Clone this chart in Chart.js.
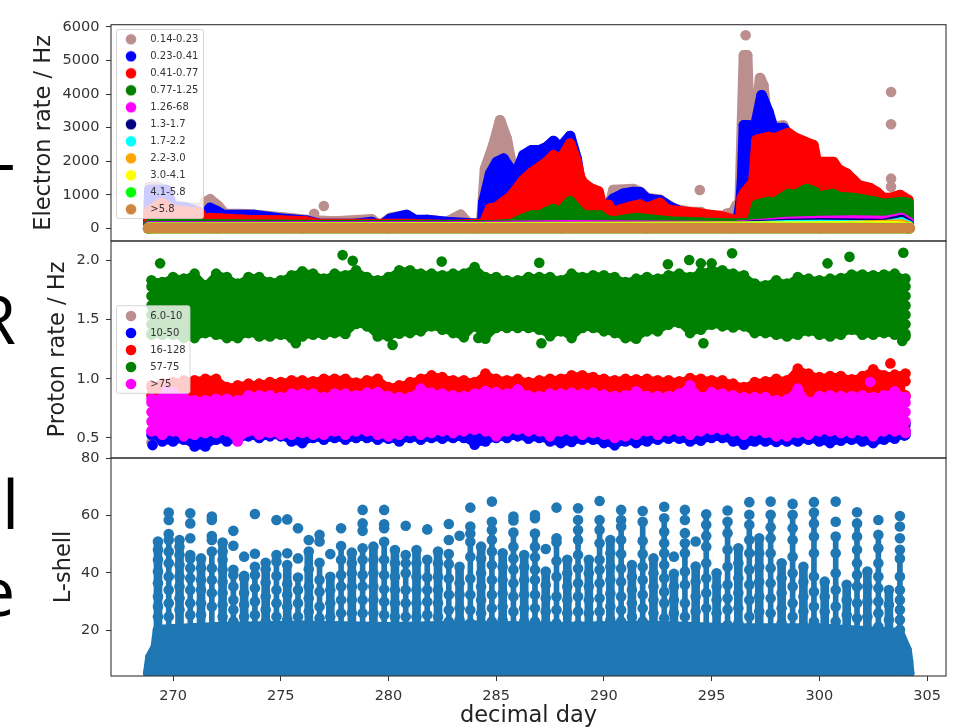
<!DOCTYPE html>
<html><head><meta charset="utf-8">
<style>
html,body{margin:0;padding:0;background:#fff;width:976px;height:728px;overflow:hidden}
canvas{position:absolute;left:0;filter:blur(.45px)}
.slide{position:absolute;font-family:"Open Sans",sans-serif;font-size:68px;line-height:70px;color:#000;filter:blur(.4px)}
</style>
<script src="https://cdn.jsdelivr.net/npm/chart.js@4"></script>
</head><body>
<span class="slide" style="left:-21px;top:109px">L</span>
<span class="slide" style="left:-26px;top:283px">R</span>
<span class="slide" style="left:2px;top:468px">l</span>
<span class="slide" style="left:-23px;top:555px">e</span>
<canvas id="c1" width="976" height="236" style="top:10px"></canvas>
<canvas id="c2" width="976" height="236" style="top:227px"></canvas>
<canvas id="c3" width="976" height="286" style="top:444px"></canvas>
<script>
// ---------- axis ticks ----------
const dayTicks=[270,275,280,285,290,295,300,305];
const electronTicks=[0,1000,2000,3000,4000,5000,6000];
const protonTicks=[0.5,1.0,1.5,2.0];
const lshellTicks=[20,40,60,80];

// ---------- electron channels ----------
const electronLabels=['0.14-0.23','0.23-0.41','0.41-0.77','0.77-1.25','1.26-68','1.3-1.7','1.7-2.2','2.2-3.0','3.0-4.1','4.1-5.8','>5.8'];
const electronColors=['#bc8f8f','#0000ff','#ff0000','#008000','#ff00ff','#000080','#00ffff','#ffa500','#ffff00','#00ff00','#cd853f'];

const rosyDays=[268.85,268.9,269.3,269.6,270,270.6,271.3,271.72,272.1,272.4,273.5,275.5,276.4,277.5,279.22,279.6,280.07,280.85,281.3,281.8,282.7,283.35,283.7,284.3,284.4,284.48,284.87,285.18,285.49,285.72,286,286.7,288.4,289,289.9,290.2,290.44,291.37,291.7,292,292.6,293,293.4,294,294.5,294.8,295.5,295.7,296,296.16,296.3,296.5,296.65,296.75,297,297.25,297.4,297.6,298.33,298.7,299,303,304.13,304.13];
const rosyRates=[0,1240,1240,1150,700,620,600,864,663,435,420,300,235,200,268,70,307,396,221,247,188,405,150,140,1000,1767,2480,3220,2670,1884,1720,1900,2500,1000,500,500,1140,1170,1080,900,850,680,560,486,486,300,250,430,486,690,700,5156,5156,3170,3000,4480,4260,3000,3060,2400,1500,800,700,0];
const rosyDotDays=[296.58,303.33,303.33,303.33,303.33,277,276.55,294.45,271.5];
const rosyDotRates=[5753,4063,3100,1480,1240,664,435,1141,800];

const blueDays=[268.85,268.9,269.7,269.95,270.6,271.1,271.45,271.72,272.03,272.35,273.75,274.97,276.2,276.8,278.4,279.22,279.6,280.07,280.85,281.23,281.8,282.7,284.25,284.35,284.41,284.72,285.03,285.34,285.65,285.96,286.27,286.65,287.04,287.35,287.66,287.97,288.43,288.74,288.9,289.13,289.9,290.44,290.9,291.37,291.68,291.99,292.61,293.08,293.38,294,296.2,296.35,296.42,296.5,296.7,296.85,296.94,297.32,297.64,297.87,298.33,298.55,298.7,299,304.13,304.13];
const blueRates=[0,1140,1140,650,620,500,400,605,516,396,396,292,226,128,128,188,60,277,396,247,247,188,128,200,784,1628,1976,2075,1777,1708,2184,2328,2330,2424,2600,2400,2750,2065,1380,1000,500,883,1031,1080,1070,880,830,635,545,400,200,800,1500,3070,3070,1900,2770,3964,3466,2970,2990,2800,2400,1500,600,0];

const redDays=[268.85,268.9,269.46,270,271.25,271.45,271.7,273.4,274.97,276.2,276.8,280.85,282.7,284.25,284.41,284.72,285.03,285.34,285.65,285.96,286.27,286.65,287.04,287.35,287.66,287.97,288.43,288.74,288.9,289.05,289.36,289.75,289.9,290.21,290.44,290.75,291.37,291.68,291.99,292.61,292.92,293.38,294.31,294.93,295.4,296.02,296.33,296.4,296.55,296.94,297.09,297.63,297.94,298.56,298.87,299.34,299.72,299.88,300.65,300.88,301.27,301.58,301.81,302.35,302.66,302.97,303.28,303.75,304.13,304.13];
const redRates=[0,515,754,545,456,247,307,247,228,200,128,128,100,128,120,585,630,784,933,1180,1440,1657,1827,1976,2176,2036,2522,1976,1500,1350,1200,1097,724,695,456,557,665,706,605,754,557,516,456,396,366,256,190,903,1080,1380,2632,2720,2680,2840,2700,2572,2480,1976,1976,1760,1630,1440,1290,1200,1080,903,903,990,845,0];

const greenDays=[268.85,268.9,271,276,284.5,285.03,285.8,286.1,286.65,287.04,287.35,287.66,287.97,288.43,288.74,289.05,289.83,290.1,290.44,291.5,293,296,296.86,297.09,297.63,297.94,298.56,298.87,299.41,299.8,299.88,300.65,300.88,301.58,302.66,302.97,303.82,304.13,304.13];
const greenRates=[0,120,120,100,90,98,137,247,378,378,486,575,486,805,575,378,378,247,200,307,200,137,170,695,784,760,1022,990,1170,1080,933,1022,933,903,784,724,784,754,0];

const magentaDays=[268.85,268.9,284,288.4,296,296.9,298.5,300,301.6,303.1,303.82,304.13,304.13];
const magentaRates=[0,60,60,90,60,107,188,218,230,218,307,188,0];
const navyDays=[268.85,268.9,296,296.9,298.5,300,303,303.82,304.13,304.13];
const navyRates=[0,40,40,80,130,150,130,247,120,0];
const cyanDays=[268.85,268.9,296,298.5,300,303,303.82,304.13,304.13];
const cyanRates=[0,30,30,90,100,80,170,80,0];
const orangeDays=[268.85,268.9,300,303.82,304.13,304.13];
const orangeRates=[0,20,40,110,50,0];
const yellowDays=[268.85,268.9,303.5,304.13,304.13];
const yellowRates=[0,10,60,20,0];
const limeDays=[268.85,268.9,304.13,304.13];
const limeRates=[0,5,5,0];
const peruDays=[268.85,272,276,280,284,288,292,296,300,304.2];
const peruRates=[0,0,0,0,0,0,0,0,0,0];

// ---------- proton channels ----------
const protonLabels=['6.0-10','10-50','16-128','57-75','>75'];
const protonColors=['#bc8f8f','#0000ff','#ff0000','#008000','#ff00ff'];
const protonDays=[269,269.5,270,270.5,271,271.5,272,272.5,273,273.5,274,274.5,275,275.5,276,276.5,277,277.5,278,278.5,279,279.5,280,280.5,281,281.5,282,282.5,283,283.5,284,284.5,285,285.5,286,286.5,287,287.5,288,288.5,289,289.5,290,290.5,291,291.5,292,292.5,293,293.5,294,294.5,295,295.5,296,296.5,297,297.5,298,298.5,299,299.5,300,300.5,301,301.5,302,302.5,303,303.5,304];
const proton5775Top=[1.832,1.818,1.860,1.846,1.888,1.790,1.888,1.860,1.804,1.860,1.860,1.818,1.832,1.874,1.908,1.888,1.846,1.888,1.874,1.916,1.860,1.832,1.860,1.916,1.916,1.888,1.888,1.874,1.888,1.888,1.944,1.860,1.860,1.832,1.832,1.860,1.860,1.860,1.832,1.888,1.860,1.874,1.874,1.860,1.818,1.846,1.860,1.846,1.874,1.888,1.860,1.902,1.916,1.916,1.888,1.874,1.804,1.790,1.832,1.804,1.860,1.846,1.832,1.846,1.852,1.880,1.880,1.874,1.880,1.888,1.846];
const proton5775Low=[1.372,1.372,1.372,1.344,1.344,1.386,1.372,1.344,1.344,1.386,1.358,1.358,1.372,1.344,1.358,1.372,1.372,1.386,1.378,1.463,1.443,1.358,1.358,1.380,1.386,1.401,1.443,1.415,1.386,1.350,1.443,1.339,1.429,1.429,1.429,1.429,1.415,1.360,1.401,1.344,1.429,1.429,1.401,1.386,1.344,1.339,1.401,1.401,1.457,1.471,1.386,1.415,1.457,1.443,1.434,1.443,1.386,1.386,1.372,1.358,1.372,1.401,1.372,1.358,1.372,1.415,1.372,1.372,1.386,1.372,1.358];
const proton16128Top=[0.945,0.959,0.973,0.987,0.987,1.001,1.001,0.931,0.945,0.959,0.959,0.973,0.973,0.987,0.987,0.979,1.001,1.001,1.001,0.968,0.987,1.001,0.931,0.945,0.973,1.001,1.03,1.015,0.987,0.987,0.973,1.044,1.001,0.987,1.001,0.973,0.987,1.001,1.001,1.03,1.03,1.015,1.001,0.987,1.001,0.996,1.001,0.987,0.987,0.979,1.007,1.001,0.987,0.987,0.959,0.931,0.973,0.979,1.001,0.987,1.086,1.044,1.015,1.024,1.024,0.996,1.024,1.08,1.03,1.035,1.044];
const protonOver75Top=[0.832,0.846,0.889,0.846,0.818,0.818,0.832,0.832,0.818,0.861,0.861,0.861,0.846,0.875,0.875,0.875,0.846,0.875,0.875,0.861,0.883,0.889,0.855,0.846,0.846,0.917,0.883,0.875,0.861,0.855,0.875,0.897,0.889,0.875,0.911,0.861,0.855,0.875,0.875,0.883,0.875,0.883,0.866,0.855,0.861,0.894,0.855,0.855,0.855,0.875,0.945,0.846,0.889,0.875,0.861,0.846,0.846,0.846,0.818,0.827,0.917,0.804,0.855,0.861,0.855,0.855,0.861,0.846,0.861,0.894,0.846];
const protonOver75Low=[0.556,0.528,0.556,0.514,0.528,0.542,0.542,0.556,0.471,0.556,0.528,0.542,0.528,0.528,0.542,0.528,0.528,0.556,0.528,0.556,0.556,0.528,0.514,0.528,0.556,0.528,0.542,0.556,0.542,0.556,0.570,0.556,0.514,0.556,0.570,0.556,0.556,0.514,0.556,0.556,0.528,0.542,0.528,0.5,0.514,0.528,0.556,0.528,0.556,0.556,0.528,0.556,0.570,0.570,0.556,0.528,0.556,0.542,0.514,0.514,0.542,0.528,0.556,0.556,0.542,0.542,0.556,0.514,0.556,0.556,0.542];
const proton1050Low=[0.528,0.471,0.471,0.486,0.429,0.429,0.486,0.471,0.486,0.514,0.5,0.514,0.514,0.471,0.457,0.5,0.486,0.5,0.486,0.5,0.5,0.486,0.494,0.471,0.5,0.486,0.5,0.494,0.5,0.5,0.443,0.471,0.5,0.5,0.514,0.494,0.5,0.471,0.457,0.466,0.486,0.486,0.457,0.438,0.471,0.457,0.471,0.486,0.494,0.494,0.471,0.477,0.5,0.5,0.471,0.443,0.471,0.471,0.466,0.471,0.471,0.486,0.471,0.457,0.477,0.486,0.471,0.457,0.486,0.494,0.528];
const proton610Days=[269,269.1,275,285,295,304];
const proton610Rates=[0.465,0.6,0.6,0.6,0.6,0.6];
// isolated dots and the rounded ends of the bands
const greenDotDays=[269.4,275.7,277.87,278.34,280.19,282.47,284.17,287,287.1,292.97,293.96,294.5,294.62,295,295.95,300.38,301.4,303.9,269,269,269,269,269,269,304,304,304,304,304,304,303.85];
const greenDotRates=[1.975,1.3,2.045,1.997,1.285,1.99,1.345,1.98,1.3,1.967,2.003,1.975,1.3,1.975,2.06,1.975,2.03,2.065,1.38,1.46,1.54,1.62,1.7,1.78,1.38,1.46,1.54,1.62,1.7,1.78,1.32];
const redDotDays=[303.3,269,269,304,304];
const redDotRates=[1.13,0.86,0.92,0.86,0.98];
const magentaDotDays=[302.36,269.7,269,269,269,269,304,304,304,304];
const magentaDotRates=[0.973,0.9,0.56,0.64,0.72,0.8,0.56,0.64,0.72,0.8];
const blueDotDays=[269.05,304,304,303.95];
const blueDotRates=[0.44,0.56,0.62,0.52];

// ---------- L-shell: one list of readings per half-day pass ----------
const lshellDays=[269.3,269.8,270.3,270.8,271.3,271.8,272.3,272.8,273.3,273.8,274.3,274.8,275.3,275.8,276.3,276.8,277.3,277.8,278.3,278.8,279.3,279.8,280.3,280.8,281.3,281.8,282.3,282.8,283.3,283.8,284.3,284.8,285.3,285.8,286.3,286.8,287.3,287.8,288.3,288.8,289.3,289.8,290.3,290.8,291.3,291.8,292.3,292.8,293.25,293.76,294.26,294.75,295.23,295.74,296.24,296.75,297.21,297.74,298.25,298.76,299.26,299.75,300.25,300.76,301.27,301.75,302.23,302.74,303.23,303.74];
const lshellValues=[
[50.9,48,44.5,40.4,36.3,31.7,28.2,24.7],[61,58.4,53.5,51.4,47.4,43.3,38.7,34,29.4,24.7],[51.4,49.1,46.2,42.7,38.7,35.2,31.1,27.1],[60.7,57.2,52,46.2,45,41.6,38.1,34,29.4,25.3],[45,41.6,37.5,34,29.4,25.3],[59.6,58.4,52.8,51.4,47.4,41.6,37.5,32.9,28.2],[50.5,47.4,44.5,41,36.9,32.9,28.8,24.7],[54.6,49.4,41,39.2,35.2,30.5,27.1,23],[45.6,38.9,38.1,32.9,28.8,24.7],[60.5,46.6,42.1,39.2,34.6,30,25.3],[43.5,41.2,36.6,31.7,27.1,23],[58.4,46.2,43.9,38.9,34,29.4,24.7],[58.6,46.8,42.7,36.1,32.3,28.2,23.6],[55.5,45,38.3,34,29.4,24.7],[51.4,47.4,41.2,35.2,31.1,26.5],[53.2,50.9,43.5,37.5,33.4,28.2,24.1],
[46.5,38.6,34,29.4,24.7],[55.5,49.3,44.5,39.2,35.2,30.5,25.9,21.2],[47,43.3,39.8,35.2,30.5,25.9,21.2],[61.9,57.2,54.6,48.5,44.5,39.2,35.2,30.5,25.9,21.2],[49.1,44.5,39.8,35.2,30.5,25.9],[61.9,56.9,55.5,50.8,44.5,39.2,34.2,29.9,25.3,21.2],[47.9,43.3,38.6,34,29.4,24.7],[56.4,46.2,43.3,39.8,34,29.4,24.7],[47.9,43.3,38.6,34,29.4,24.7],[55.1,44.5,38.3,34,29.9,25.3],[47.4,43.3,38.6,34,29.4,24.7],[57,51.4,46.5,43,38,32.3,27,23],[52.9,42.1,36.3,32.3,27.6,23.5],[62.7,56.1,53.7,50.8,45.6,38,32.3,27,22.4],[49.1,45,39.8,35.2,30.5,25.9],[64.8,57.8,54.9,51.4,47.4,42.7,37.5,32.3,27.6,23],
[46.8,42.1,37.5,32.8,28.2,23.5],[59.6,58.2,54,49.1,45,41,36.3,31.7,26.5,21.8],[46.2,42.1,37.5,32.3,27.6,23],[60.1,59,53.7,49.1,45.4,41,37.5,32.3,27.6,23],[48.3,40.4,35.7,31.1,26.5,22.4],[62.7,52,50.6,44.1,38.6,31.7,27,22.4],[44.5,39.8,35.2,30.5,25.9,21.2],[62.5,58.4,54.9,51.4,46.2,41.5,36.3,31.7,26.5,21.8],[44.5,39.8,35.2,30.5,25.9,21.2],[65,58.4,54.9,50.3,44.5,41,36.3,31.1,26.5,21.8],[51.4,46.8,42.1,37.5,32.8,28.2,23.5],[61.9,58.4,56.1,51.4,46.5,41.5,36.9,31.7,27,23],[42.7,38.6,34,29.4,24.7],[61.5,57.8,51.1,46.5,42.1,37.5,32.3,27.6,23],[45,39.8,35.2,30.5,25.9],[63,59,54.3,50.3,46.8,42.7,38.1,33.4,29.4,24.1],
[45.6,39.6,35.2,30.5,25.9],[61.9,58.4,53.8,50.3,46.8,40.4,35.8,29.4,24.7],[50.9,42.2,36.9,31.7,26.5],[60.4,56.7,52.8,49.1,43.3,38.1,32.9,27.6],[39.8,35.2,30.5,25.9,21.2],[61.7,57.8,53.8,48,42.1,35.8,31.1,27.1,21.8],[48.5,43.3,38.1,32.9,27.6,22.4],[64.6,60.2,56.7,51.4,46.8,41,35.8,30.5,24.7,20.1],[52,46.8,42.1,36.9,31.7,26.5],[64.8,60.2,55.9,52,46.8,41.6,36.3,31.1,25.9],[43.3,38.1,32.9,27.6,22.4],[64,60.2,55.5,51.4,45.6,39.8,35.2,29.4,24.7],[42.1,36.9,31.7,26.5,21.2],[64.6,61,57.2,52.6,46.8,38.7,33.4,28.2,23],[36.9,31.7,26.5,21.2],[64.8,57.8,52.6,46.8,39.8,34,28.2,23],[35.8,30.5,25.3,20.7],[61.1,57.2,52.6,48,43.3,39.2,35.2,29.4,24.1],[40.4,35.2,30,24.7,20.1],[58.4,53.2,48.5,43.3,38.7,34.6,30,25.9,21.2],[34,28.8,23.6,18.9],[59.8,56.1,52,48,45,38.7,34,30.5,27.1,23.6,20.1,16]
];
// how far up each pass stays unbroken: the in-between passes, then the taller passes
const lshellEvenDays=[269.3,270.3,271.3,272.3,273.3,274.3,275.3,276.3,277.3,278.3,279.3,280.3,281.3,282.3,283.3,284.3,285.3,286.3,287.3,288.3,289.3,290.3,291.3,292.3,293.25,294.26,295.23,296.24,297.21,298.25,299.26,300.25,301.27,302.23,303.23];
const lshellEvenTops=[50.9,51.4,45,50.5,38.9,41.2,42.7,47.4,38.6,47,49.1,47.9,47.9,47.4,42.1,49.1,46.8,46.2,40.4,44.5,44.5,51.4,42.7,45,39.6,42.2,39.8,48.5,52,43.3,42.1,36.9,35.8,40.4,34];
const lshellOddDays=[269.8,270.8,271.8,272.8,273.8,274.8,275.8,276.8,277.8,278.8,279.8,280.8,281.8,282.8,283.8,284.8,285.8,286.8,287.8,288.8,289.8,290.8,291.8,292.8,293.76,294.75,295.74,296.75,297.74,298.76,299.75,300.76,301.75,302.74,303.74];
const lshellOddTops=[51,46,47,41,42,46,38,43.5,49,48,50,46,44,46,50,55,54,53,50,55,58,58,58,59,50,60,58,57,60,60,61,53,57,53,48];
const lshellBarBase=[18];
const lshellFloorDays=[268.85,268.95,269.2,269.3,272,276,280,284,288,292,296,300,303.7,304.05,304.12,304.17];
const lshellFloorValues=[5,10.5,14,20,21,21.5,21,21.5,21,21.5,20.5,20.5,19,13,9,5];

// ---------- helpers ----------
const pairs=(xs,ys)=>xs.map((x,i)=>({x,y:ys[i]}));
const R=5.3;
const AXIS='#333';
const FONT='"DejaVu Sans"';
const TITLE=22.5;
function dot(color){
  const c=document.createElement('canvas');c.width=c.height=12;
  const g=c.getContext('2d');g.fillStyle=color;g.beginPath();g.arc(6,6,R,0,Math.PI*2);g.fill();
  return c;
}
function panelPlugin(legendBox){
  return {
    id:'panel',
    beforeLayout(chart){
      if(!legendBox||!chart.legend)return;
      chart.legend._layers=()=>[{z:10,draw(area){
        const g=chart.ctx;g.save();
        g.fillStyle='rgba(255,255,255,0.8)';g.strokeStyle='rgba(204,204,204,0.8)';g.lineWidth=1;
        g.beginPath();g.roundRect(legendBox.x,legendBox.y,legendBox.w,legendBox.h,2);g.fill();g.stroke();
        g.restore();
        chart.legend.draw(area);
      }}];
    },
    afterLayout(chart){
      if(!legendBox||!chart.legend)return;
      const l=chart.legend;
      l.left=legendBox.textLeft;l.top=legendBox.textTop;l.right=chart.width;l.bottom=chart.height+1000;
      l.adjustHitBoxes();
    },
    afterDatasetsDraw(chart){
      const a=chart.chartArea,g=chart.ctx;g.save();
      g.strokeStyle=AXIS;g.lineWidth=1.1;g.strokeRect(a.left,a.top,a.right-a.left,a.bottom-a.top);g.restore();
    }
  };
}
function yScale(min,max,ticks,title,padLeft,fmt){
  return {type:'linear',min,max,
    afterBuildTicks:s=>{s.ticks=ticks.map(v=>({value:v}));},
    afterFit:s=>{s.width=111-padLeft;s.paddingTop=0;s.paddingBottom=0;},
    grid:{drawOnChartArea:false,drawTicks:true,tickLength:5,color:AXIS},
    border:{display:false},
    title:{display:true,text:title,color:'#222',padding:0,font:{family:FONT,size:TITLE}},
    ticks:{color:'#333',padding:6.5,autoSkip:false,font:{family:FONT,size:14.5},callback:fmt}};
}
function xScale(show){
  const s={type:'linear',min:267.12,max:305.88,offset:false,display:show,
    afterBuildTicks:a=>{a.ticks=dayTicks.map(v=>({value:v}));},
    grid:{offset:false,drawOnChartArea:false,drawTicks:true,tickLength:5,color:AXIS},
    border:{display:false},
    ticks:{color:'#333',padding:7,autoSkip:false,maxRotation:0,font:{family:FONT,size:14.5},callback:v=>String(v)}};
  if(show){
    s.afterFit=a=>{a.height=54;a.paddingLeft=0;a.paddingRight=0;};
    s.title={display:true,text:'decimal day',color:'#222',padding:0,font:{family:FONT,size:TITLE}};
  }
  return s;
}
function legendOpts(){
  return {display:true,position:'chartArea',align:'start',reverse:true,
    labels:{usePointStyle:true,pointStyleWidth:28.5,padding:7,color:'#333',font:{family:FONT,size:10},
      filter:i=>i.text!=='',
      generateLabels(chart){
        const items=Chart.defaults.plugins.legend.labels.generateLabels(chart);
        items.forEach(i=>{i.pointStyle=dot(i.fillStyle);});
        return items;
      }}};
}
function base(padding){
  return {responsive:false,animation:false,events:[],devicePixelRatio:1,layout:{padding,autoPadding:false},
    elements:{line:{tension:0,borderCapStyle:'round',borderJoinStyle:'round'},point:{radius:R,borderWidth:0,hoverRadius:R}}};
}
function envelope(label,color,xs,ys,order,width,fill){
  return {label,data:pairs(xs,ys),borderColor:color,backgroundColor:color,pointBackgroundColor:color,pointBorderWidth:0,
    borderWidth:width,fill,order,showLine:true};
}
function dots(color,xs,ys,order){
  return {label:'',data:pairs(xs,ys),showLine:false,borderColor:color,backgroundColor:color,pointBackgroundColor:color,pointBorderWidth:0,borderWidth:0,order};
}
function columns(color,xs,tops,thick,order){
  return {type:'bar',label:'',grouped:false,barThickness:thick,backgroundColor:color,borderWidth:0,order,
    data:xs.map((x,i)=>({x,y:[lshellBarBase[0],tops[i]]}))};
}

// ---------- panel 1: electrons ----------
const electronSeries=[[rosyDays,rosyRates],[blueDays,blueRates],[redDays,redRates],[greenDays,greenRates],[magentaDays,magentaRates],[navyDays,navyRates],[cyanDays,cyanRates],[orangeDays,orangeRates],[yellowDays,yellowRates],[limeDays,limeRates],[peruDays,peruRates]];
const electronSets=electronSeries.map((s,i)=>envelope(electronLabels[i],electronColors[i],s[0],s[1],30-i,10.6,i===10?false:'origin'));
electronSets.push(dots(electronColors[0],rosyDotDays,rosyDotRates,30));
new Chart(document.getElementById('c1'),{type:'line',data:{datasets:electronSets},
  options:{...base({top:14.7,bottom:5,left:30.5,right:30}),
    scales:{x:xScale(false),y:yScale(-378.5,6068,electronTicks,'Electron rate / Hz',30.5,v=>String(v))},
    plugins:{legend:legendOpts(),tooltip:{enabled:false}}},
  plugins:[panelPlugin({x:116.5,y:19.5,w:87,h:189,textLeft:109.75,textTop:17.3})]});

// ---------- panel 2: protons ----------
const protonSets=[
  envelope(protonLabels[0],protonColors[0],proton610Days,proton610Rates,30,6,false),
  envelope(protonLabels[1],protonColors[1],protonDays,proton1050Low,29,6,{value:0.8}),
  dots(protonColors[1],blueDotDays,blueDotRates,29),
  envelope(protonLabels[2],protonColors[2],protonDays,proton16128Top,28,6,{value:0.6}),
  dots(protonColors[2],redDotDays,redDotRates,28),
  envelope(protonLabels[3],protonColors[3],protonDays,proton5775Top,27,6,'+1'),
  envelope('',protonColors[3],protonDays,proton5775Low,27,6,false),
  dots(protonColors[3],greenDotDays,greenDotRates,27),
  envelope(protonLabels[4],protonColors[4],protonDays,protonOver75Top,26,6,'+1'),
  envelope('',protonColors[4],protonDays,protonOver75Low,26,6,false),
  dots(protonColors[4],magentaDotDays,magentaDotRates,26)
];
new Chart(document.getElementById('c2'),{type:'line',data:{datasets:protonSets},
  options:{...base({top:14,bottom:5,left:44.5,right:30}),
    scales:{x:xScale(false),y:yScale(0.331,2.164,protonTicks,'Proton rate / Hz',44.5,v=>v.toFixed(1))},
    plugins:{legend:legendOpts(),tooltip:{enabled:false}}},
  plugins:[panelPlugin({x:116.5,y:78.7,w:73.5,h:87.6,textLeft:109.75,textTop:77})]});

// ---------- panel 3: L-shell ----------
const lshellX=[],lshellY=[];
lshellDays.forEach((d,i)=>lshellValues[i].forEach(v=>{lshellX.push(d);lshellY.push(v);}));
const lshellSets=[
  envelope('L-shell','#1f77b4',lshellFloorDays,lshellFloorValues,3,10.6,{value:0}),
  columns('#1f77b4',lshellEvenDays,lshellEvenTops,8,2),
  columns('#1f77b4',lshellOddDays,lshellOddTops,5,2),
  dots('#1f77b4',lshellX,lshellY,1)
];
new Chart(document.getElementById('c3'),{type:'line',data:{datasets:lshellSets},
  options:{...base({top:14,bottom:0,left:50.5,right:30}),
    scales:{x:xScale(true),y:yScale(4,80,lshellTicks,'L-shell',50.5,v=>String(v))},
    plugins:{legend:{display:false},tooltip:{enabled:false}}},
  plugins:[panelPlugin(null)]});
</script>
</body></html>
